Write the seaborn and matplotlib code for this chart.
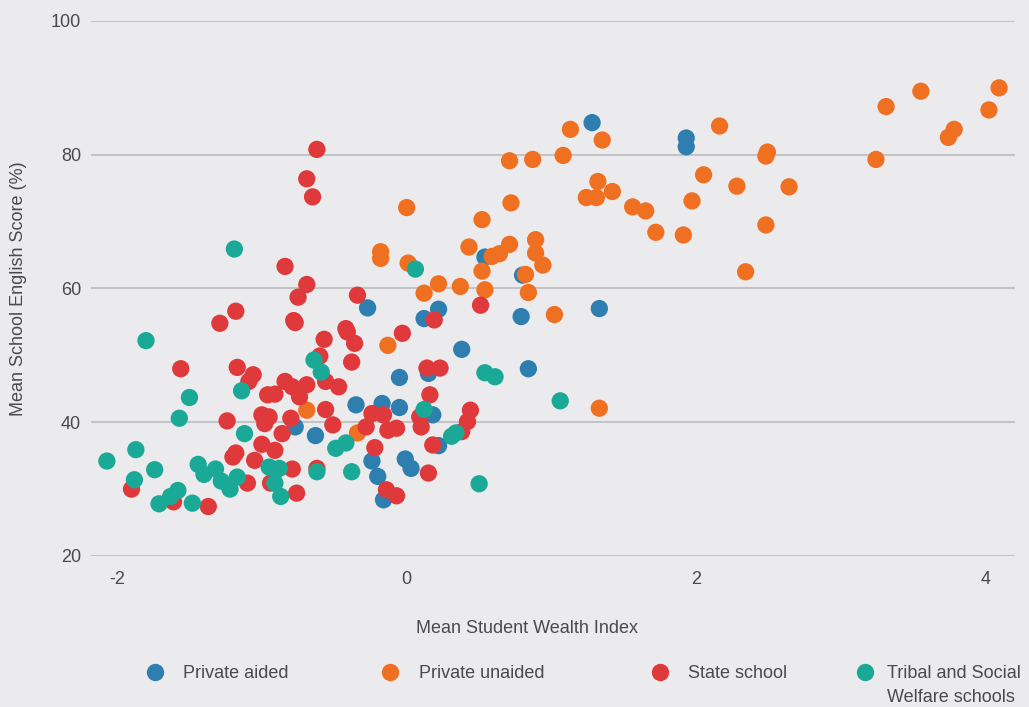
import pandas as pd
import matplotlib.pyplot as plt
import seaborn as sns
from matplotlib.lines import Line2D

sns.set_style('white')
plt.rcParams['font.family'] = ['Liberation Sans', 'DejaVu Sans']
plt.rcParams['axes.unicode_minus'] = False

# values
schoolTypes = ['Private aided', 'Private unaided', 'State school', 'Tribal and Social Welfare schools']
typeColours = ['#2e7eb0', '#f07022', '#e0393b', '#1aa996']

aidedWealth = [1.28, 1.93, 1.93, 0.54, 0.80, 1.33, 0.79, 0.84, 0.38, 0.22, 0.12, -0.27, 0.15,
               -0.05, -0.17, -0.35, -0.05, 0.18, -0.63, -0.77, -0.24, -0.01, 0.03, -0.20, -0.16, 0.22]
aidedScore = [84.8, 82.5, 81.2, 64.7, 62.0, 57.0, 55.8, 48.0, 50.9, 56.9, 55.5, 57.1, 47.3,
              46.7, 42.8, 42.6, 42.2, 41.1, 38.0, 39.3, 34.2, 34.5, 33.1, 31.9, 28.4, 36.5]

unaidedWealth = [-0.18, -0.18, 0.01, 0.12, 0.22, 0.37, 0.00, 0.43, 0.59, 0.64, 0.71, 0.89, 0.89,
                 0.94, 0.52, 0.54, 0.82, 0.84, 1.02, 0.52, 0.72, 0.71, 0.87, 1.08, 1.13, 1.35,
                 1.32, 1.42, 1.24, 1.31, 1.56, 1.65, 1.72, 1.91, 1.97, 2.05, 2.16, 2.28, 2.34,
                 2.48, 2.48, 2.49, 2.64, 3.24, 3.31, 3.55, 3.74, 3.78, 4.02, 4.09, -0.13, -0.69,
                 -0.34, 1.33]
unaidedScore = [65.5, 64.5, 63.8, 59.3, 60.7, 60.3, 72.1, 66.2, 64.8, 65.2, 66.6, 67.3, 65.3,
                63.5, 62.6, 59.8, 62.1, 59.4, 56.1, 70.3, 72.8, 79.1, 79.3, 79.9, 83.8, 82.2,
                76.0, 74.5, 73.6, 73.6, 72.2, 71.6, 68.4, 68.0, 73.1, 77.0, 84.3, 75.3, 62.5,
                69.5, 79.8, 80.4, 75.2, 79.3, 87.2, 89.5, 82.6, 83.8, 86.7, 90.0, 51.5, 41.8,
                38.4, 42.1]

stateWealth = [-1.29, -1.56, -1.17, -1.06, -1.09, -1.24, -1.00, -0.96, -1.18, -1.20, -1.00, -1.05,
               -1.10, -1.90, -1.61, -1.37, -0.98, -0.77, -0.57, -0.41, -0.36, -0.03, -0.38, -0.60,
               -0.84, -0.91, -0.79, -0.69, -0.74, -0.56, -0.47, -0.56, -0.95, -0.80, -0.51, -0.86,
               -0.91, -0.79, -0.62, -0.94, -0.76, -0.24, -0.16, -0.28, -0.13, -0.07, -0.22, 0.14,
               0.16, 0.09, 0.10, 0.18, 0.15, -0.14, -0.07, -0.62, -0.69, -0.65, -0.84, -0.69,
               -0.75, -1.18, -0.78, -0.34, -0.42, 0.19, 0.23, 0.51, 0.44, 0.42, 0.38]
stateScore = [54.8, 48.0, 48.2, 47.1, 46.1, 40.2, 41.1, 44.1, 35.4, 34.8, 36.7, 34.3,
              30.9, 30.0, 28.1, 27.4, 39.8, 54.9, 52.4, 53.5, 51.8, 53.3, 49.0, 49.9,
              46.1, 44.2, 45.3, 45.6, 43.8, 46.1, 45.3, 41.9, 40.8, 40.6, 39.6, 38.3,
              35.8, 33.0, 33.1, 30.9, 29.4, 41.3, 41.1, 39.3, 38.8, 39.1, 36.2, 48.1,
              44.1, 40.8, 39.3, 36.6, 32.4, 29.9, 29.0, 80.8, 76.4, 73.7, 63.3, 60.6,
              58.7, 56.6, 55.2, 59.0, 54.0, 55.3, 48.1, 57.5, 41.8, 40.1, 38.6]

tribalWealth = [-2.07, -1.87, -1.88, -1.80, -1.74, -1.71, -1.63, -1.58, -1.57, -1.50, -1.48, -1.44,
                -1.40, -1.32, -1.28, -1.22, -1.17, -1.19, -1.14, -1.12, -0.95, -0.88, -0.91, -0.87,
                -0.64, -0.59, -0.62, -0.49, -0.42, -0.38, 0.06, 0.12, 0.31, 0.34, 0.50, 0.54,
                0.61, 1.06]
tribalScore = [34.2, 35.9, 31.4, 52.2, 32.9, 27.8, 28.9, 29.8, 40.6, 43.7, 27.9, 33.7,
               32.2, 33.0, 31.2, 30.0, 31.8, 65.9, 44.7, 38.3, 33.3, 33.1, 30.9, 28.9,
               49.3, 47.5, 32.6, 36.1, 36.9, 32.6, 62.9, 41.9, 37.9, 38.4, 30.8, 47.4,
               46.8, 43.2]

frames = []
for name, xs, ys in zip(schoolTypes,
                        [aidedWealth, unaidedWealth, stateWealth, tribalWealth],
                        [aidedScore, unaidedScore, stateScore, tribalScore]):
    frames.append(pd.DataFrame({'wealth': xs, 'score': ys, 'school': name}))
schools = pd.concat(frames, ignore_index=True)

bg = '#ebebed'
textCol = '#4a4a4a'

fig = plt.figure(figsize=(10.29, 7.07), dpi=100, facecolor=bg)
ax = fig.add_axes([0.0884, 0.2136, 0.898, 0.7567])
ax.set_facecolor(bg)

sns.scatterplot(data=schools, x='wealth', y='score', hue='school', hue_order=schoolTypes,
                palette=typeColours, s=155, linewidth=0, alpha=1, legend=False, ax=ax)

ax.set_xlim(-2.18, 4.2)
ax.set_ylim(20, 100)
ax.set_xticks([-2, 0, 2, 4])
ax.set_yticks([20, 40, 60, 80, 100])
ax.grid(axis='y', color='#c4c4c6', linewidth=1.5)
ax.grid(axis='x', visible=False)
ax.set_axisbelow(True)
for s in ax.spines.values():
    s.set_visible(False)
ax.tick_params(axis='both', length=0, labelsize=13, labelcolor=textCol)
ax.tick_params(axis='y', pad=7)
ax.tick_params(axis='x', pad=11)

ax.set_xlabel('Mean Student Wealth Index', fontsize=13, color=textCol)
ax.set_ylabel('Mean School English Score (%)', fontsize=13, color=textCol)
ax.xaxis.set_label_coords(0.472, -0.12)
ax.yaxis.set_label_coords(-0.069, 0.5)

# legend entries placed one by one along the bottom
legendX = [155, 390, 660, 865]
legendTextX = [183, 419, 688, 887]
legendLabels = ['Private aided', 'Private unaided', 'State school', 'Tribal and Social']
fs = 13 * 100 / 72
for lx, tx, lab, col in zip(legendX, legendTextX, legendLabels, typeColours):
    h = Line2D([], [], marker='o', linestyle='none', markersize=12.5,
               markerfacecolor=col, markeredgewidth=0)
    fig.legend(handles=[h], labels=[lab], loc='center left',
               bbox_to_anchor=((lx - fs / 2) / 1029, 1 - 674 / 707),
               frameon=False, fontsize=13, labelcolor=textCol,
               handlelength=1, handletextpad=(tx - lx - fs / 2) / fs,
               borderpad=0, borderaxespad=0)
fig.text(887 / 1029, 1 - 697 / 707, 'Welfare schools', fontsize=13, color=textCol,
         va='center', ha='left')

fig.savefig('out.png', dpi=100, facecolor=bg)
